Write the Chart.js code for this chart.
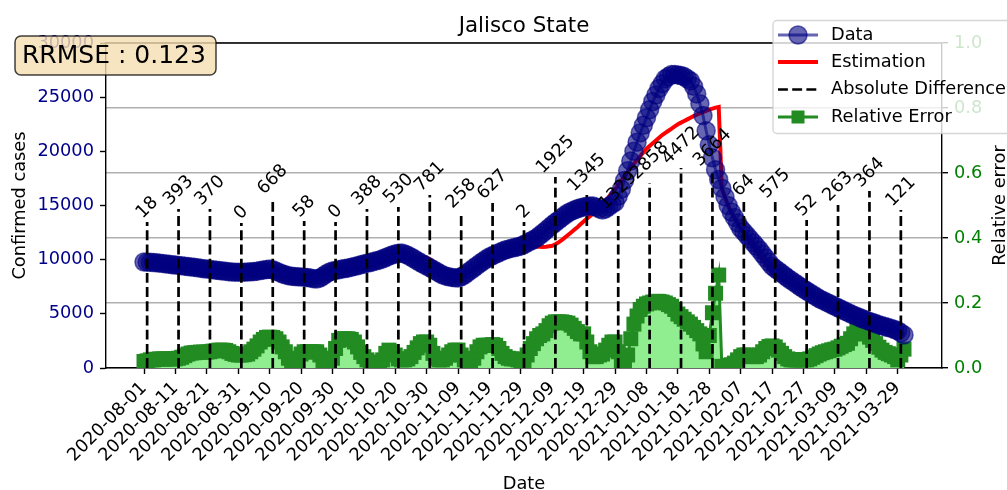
<!DOCTYPE html>
<html>
<head>
<meta charset="utf-8">
<script src="https://cdn.jsdelivr.net/npm/chart.js@4.4.1/dist/chart.umd.min.js"></script>
<style>
  html, body { margin: 0; padding: 0; background: #fff; }
  canvas { display: block; }
</style>
</head>
<body>
<canvas id="chart" width="1007" height="490"></canvas>
<script>
// daily series, day 0 = startDate
const startDate = '2020-08-01';

const tickLabels = [
  '2020-08-01', '2020-08-11', '2020-08-21', '2020-08-31', '2020-09-10',
  '2020-09-20', '2020-09-30', '2020-10-10', '2020-10-20', '2020-10-30',
  '2020-11-09', '2020-11-19', '2020-11-29', '2020-12-09', '2020-12-19',
  '2020-12-29', '2021-01-08', '2021-01-18', '2021-01-28', '2021-02-07',
  '2021-02-17', '2021-02-27', '2021-03-09', '2021-03-19', '2021-03-29'
];

const confirmed = [
  9785, 9770, 9755, 9740, 9720, 9680, 9650, 9610, 9575, 9540,
  9508, 9470, 9440, 9400, 9360, 9320, 9290, 9250, 9210, 9170,
  9139, 9100, 9060, 9020, 8990, 8950, 8920, 8890, 8860, 8850,
  8850, 8840, 8850, 8870, 8880, 8900, 8940, 8990, 9040, 9090,
  9130, 9060, 8950, 8820, 8700, 8600, 8520, 8470, 8440, 8420,
  8400, 8380, 8350, 8300, 8250, 8215, 8300, 8480, 8680, 8850,
  8954, 9010, 9070, 9130, 9180, 9231, 9300, 9380, 9450, 9530,
  9600, 9670, 9740, 9820, 9890, 9969, 10080, 10200, 10320, 10430,
  10523, 10600, 10615, 10520, 10400, 10246, 10080, 9900, 9730, 9570,
  9415, 9260, 9100, 8940, 8760, 8600, 8500, 8420, 8360, 8320,
  8308, 8420, 8585, 8800, 9010, 9231, 9450, 9660, 9860, 10060,
  10246, 10380, 10510, 10640, 10770, 10890, 10970, 11050, 11120, 11190,
  11262, 11400, 11550, 11700, 11850, 12000, 12230, 12460, 12700, 12950,
  13200, 13430, 13650, 13880, 14100, 14308, 14450, 14580, 14700, 14800,
  14862, 14920, 14950, 14954, 14850, 14700, 14585, 14700, 14900, 15100,
  15300, 15850, 16500, 17300, 18200, 19100, 20000, 20850, 21700, 22400,
  23100, 23850, 24600, 25200, 25800, 26250, 26700, 26900, 27100, 27100,
  27050, 27000, 26900, 26700, 26500, 26000, 25300, 24400, 23300, 21900,
  20600, 19400, 18300, 17400, 16600, 15800, 15000, 14400, 13900, 13400,
  12900, 12560, 12230, 11900, 11570, 11230, 10900, 10520, 10150, 9780,
  9400, 9180, 8960, 8740, 8520, 8300, 8100, 7900, 7700, 7500,
  7300, 7120, 6940, 6760, 6580, 6400, 6260, 6120, 5980, 5840,
  5700, 5560, 5420, 5280, 5140, 5000, 4880, 4760, 4640, 4520,
  4400, 4300, 4200, 4100, 4000, 3900, 3820, 3730, 3650, 3550,
  3450, 3250, 3050
];

const estimation = [
  9803, 9740, 9670, 9600, 9530, 9460, 9390, 9320, 9250, 9180,
  9115, 9050, 8990, 8940, 8890, 8850, 8820, 8800, 8785, 8775,
  8769, 8765, 8762, 8760, 8760, 8760, 8762, 8765, 8767, 8769,
  8769, 8740, 8700, 8650, 8600, 8560, 8520, 8500, 8485, 8475,
  8471, 8460, 8450, 8440, 8420, 8400, 8380, 8365, 8350, 8345,
  8342, 8380, 8450, 8540, 8640, 8740, 8830, 8890, 8930, 8950,
  8954, 8980, 9010, 9040, 9080, 9110, 9140, 9170, 9190, 9205,
  9212, 9300, 9400, 9500, 9600, 9700, 9790, 9870, 9930, 9970,
  9993, 10020, 10060, 10100, 10140, 10170, 10190, 10200, 10205, 10200,
  10196, 10050, 9850, 9620, 9400, 9180, 8980, 8800, 8670, 8600,
  8566, 8610, 8700, 8820, 8960, 9110, 9260, 9400, 9500, 9570,
  9619, 9800, 10000, 10200, 10400, 10600, 10800, 10970, 11100, 11200,
  11260, 11270, 11260, 11240, 11220, 11200, 11190, 11180, 11200, 11240,
  11275, 11420, 11600, 11800, 12030, 12270, 12510, 12760, 13000, 13260,
  13517, 13770, 14020, 14270, 14520, 14770, 15020, 15400, 15800, 16150,
  16500, 16900, 17300, 17700, 18100, 18500, 18850, 19200, 19550, 19900,
  20220, 20500, 20750, 21000, 21250, 21500, 21700, 21900, 22100, 22300,
  22500, 22650, 22800, 22950, 23100, 23250, 23380, 23500, 23620, 23740,
  23850, 23950, 24030, 24100, 16550, 15750, 14950, 14380, 13880, 13380,
  12836, 12430, 12020, 11610, 11200, 10800, 10400, 10000, 9600, 9210,
  8825, 8620, 8420, 8230, 8050, 7880, 7720, 7560, 7410, 7280,
  7248, 7100, 6930, 6760, 6590, 6420, 6260, 6110, 5960, 5820,
  5437, 5330, 5230, 5130, 5030, 4870, 4700, 4530, 4370, 4200,
  4036, 3950, 3870, 3790, 3720, 3650, 3590, 3530, 3480, 3420,
  3329, 3200, 3060
];

const relativeError = [
  0.020, 0.022, 0.025, 0.025, 0.027, 0.028, 0.028, 0.028, 0.028, 0.028,
  0.028, 0.030, 0.033, 0.038, 0.043, 0.046, 0.047, 0.048, 0.049, 0.049,
  0.049, 0.050, 0.052, 0.054, 0.055, 0.055, 0.054, 0.050, 0.045, 0.042,
  0.040, 0.040, 0.041, 0.043, 0.050, 0.058, 0.068, 0.080, 0.088, 0.094,
  0.095, 0.094, 0.090, 0.080, 0.065, 0.050, 0.030, 0.015, 0.010, 0.020,
  0.043, 0.050, 0.050, 0.050, 0.050, 0.050, 0.040, 0.020, 0.018, 0.020,
  0.030, 0.060, 0.085, 0.090, 0.090, 0.090, 0.088, 0.080, 0.065, 0.048,
  0.035, 0.025, 0.018, 0.013, 0.013, 0.013, 0.025, 0.045, 0.055, 0.050,
  0.040, 0.028, 0.025, 0.025, 0.028, 0.035, 0.048, 0.062, 0.075, 0.080,
  0.080, 0.070, 0.045, 0.030, 0.025, 0.025, 0.030, 0.040, 0.050, 0.055,
  0.055, 0.040, 0.025, 0.020, 0.020, 0.030, 0.050, 0.065, 0.070, 0.070,
  0.070, 0.072, 0.070, 0.060, 0.045, 0.035, 0.030, 0.028, 0.028, 0.025,
  0.005, 0.020, 0.040, 0.060, 0.075, 0.090, 0.100, 0.105, 0.115, 0.130,
  0.138, 0.142, 0.142, 0.142, 0.140, 0.138, 0.132, 0.122, 0.112, 0.105,
  0.105, 0.080, 0.050, 0.035, 0.035, 0.040, 0.043, 0.055, 0.070, 0.080,
  0.080, 0.050, 0.020, 0.005, 0.040, 0.090, 0.135, 0.160, 0.180, 0.190,
  0.197, 0.200, 0.203, 0.205, 0.205, 0.203, 0.200, 0.195, 0.190, 0.180,
  0.166, 0.158, 0.150, 0.142, 0.135, 0.125, 0.115, 0.105, 0.074, 0.050,
  0.100, 0.170, 0.230, 0.286, 0.005, 0.005, 0.008, 0.010, 0.015, 0.025,
  0.035, 0.040, 0.040, 0.038, 0.035, 0.035, 0.040, 0.050, 0.060, 0.066,
  0.068, 0.065, 0.055, 0.045, 0.035, 0.028, 0.025, 0.025, 0.025, 0.025,
  0.025, 0.025, 0.028, 0.033, 0.038, 0.043, 0.047, 0.050, 0.053, 0.056,
  0.058, 0.062, 0.067, 0.072, 0.076, 0.090, 0.105, 0.120, 0.130, 0.130,
  0.105, 0.095, 0.085, 0.075, 0.064, 0.055, 0.048, 0.044, 0.040, 0.035,
  0.025, 0.040, 0.058
];

// absolute difference markers (every 10 days)
const diffDays = [1, 11, 21, 31, 41, 51, 61, 71, 81, 91, 101, 111, 121,
  131, 141, 151, 161, 171, 181, 191, 201, 211, 221, 231, 241];
const diffTops = [13477, 14677, 14677, 13385, 15692, 13569, 13477, 14677, 14862,
  15969, 14400, 15231, 13477, 17631, 15969, 14308, 17077, 18462, 18277, 15508,
  15323, 13662, 15046, 16338, 14585];
const diffLabels = ['18', '393', '370', '0', '668', '58', '0', '388', '530', '781',
  '258', '627', '2', '1925', '1345', '1329', '2858', '4472', '3664', '64', '575',
  '52', '263', '364', '121'];

const rrmse = 0.123;

const FONT = 'DejaVu Sans';
const FS = 17.8;
const DATA_COL = 'rgba(0,0,128,0.6)';
const tickFont = { family: '"DejaVu Sans"', size: FS };

const dayOf = s => Math.round((Date.parse(s) - Date.parse(startDate)) / 86400000);
const tickDays = tickLabels.map(dayOf);
const lastDay = confirmed.length - 1;
const toXY = arr => arr.map((v, i) => ({ x: i, y: v }));

const diffPoints = [];
diffDays.forEach((d, i) => {
  diffPoints.push({ x: d, y: 0 }, { x: d, y: diffTops[i] }, { x: d, y: null });
});

Chart.defaults.font.family = '"DejaVu Sans"';
Chart.defaults.font.size = FS;
Chart.defaults.color = '#000';

const annotate = {
  id: 'annotate',
  afterDraw(chart) {
    const { ctx, chartArea: a, scales } = chart;
    const x = scales.x, y = scales.y;
    ctx.save();

    // top spine
    ctx.strokeStyle = '#000';
    ctx.lineWidth = 1.4;
    ctx.beginPath();
    ctx.moveTo(a.left, a.top);
    ctx.lineTo(a.right, a.top);
    ctx.stroke();

    // labels on the dashed lines
    ctx.font = FS + 'px "' + FONT + '"';
    ctx.fillStyle = '#000';
    ctx.textAlign = 'center';
    ctx.textBaseline = 'middle';
    diffLabels.forEach((t, i) => {
      const px = x.getPixelForValue(diffDays[i]);
      const py = y.getPixelForValue(diffTops[i]);
      const side = (ctx.measureText(t).width + FS) / Math.SQRT2;
      ctx.save();
      ctx.translate(px, py - side / 2);
      ctx.rotate(-Math.PI / 4);
      ctx.fillText(t, 0, 0);
      ctx.restore();
    });

    // title
    ctx.font = '21.4px "' + FONT + '"';
    ctx.textBaseline = 'alphabetic';
    ctx.fillText('Jalisco State', (a.left + a.right) / 2, a.top - 10.7);

    // axis titles
    ctx.font = FS + 'px "' + FONT + '"';
    ctx.fillText('Date', (a.left + a.right) / 2, 489);
    const mid = (a.top + a.bottom) / 2;
    ctx.save();
    ctx.translate(25, mid);
    ctx.rotate(-Math.PI / 2);
    ctx.fillText('Confirmed cases', 0, 0);
    ctx.restore();
    ctx.save();
    ctx.translate(1005, mid);
    ctx.rotate(-Math.PI / 2);
    ctx.fillText('Relative error', 0, 0);
    ctx.restore();

    // RRMSE box
    ctx.beginPath();
    ctx.roundRect(15, 36, 201, 39, 6);
    ctx.fillStyle = 'rgba(245,222,179,0.8)';
    ctx.fill();
    ctx.strokeStyle = 'rgba(0,0,0,0.75)';
    ctx.lineWidth = 1.5;
    ctx.stroke();
    ctx.fillStyle = '#000';
    ctx.font = '25px "' + FONT + '"';
    ctx.textAlign = 'left';
    ctx.textBaseline = 'middle';
    ctx.fillText('RRMSE : ' + rrmse.toFixed(3), 22, 56);

    // legend
    ctx.beginPath();
    ctx.roundRect(773, 20.5, 260, 113, 4);
    ctx.fillStyle = 'rgba(255,255,255,0.8)';
    ctx.fill();
    ctx.strokeStyle = 'rgba(204,204,204,0.8)';
    ctx.lineWidth = 1.4;
    ctx.stroke();

    const rows = [35, 62, 89.5, 117];
    const hx0 = 778, hx1 = 818, hxc = 798;
    // Data
    ctx.strokeStyle = DATA_COL;
    ctx.lineWidth = 3;
    ctx.beginPath(); ctx.moveTo(hx0, rows[0]); ctx.lineTo(hx1, rows[0]); ctx.stroke();
    ctx.beginPath(); ctx.arc(hxc, rows[0], 9, 0, Math.PI * 2);
    ctx.fillStyle = DATA_COL; ctx.fill();
    ctx.lineWidth = 1.5; ctx.stroke();
    // Estimation
    ctx.strokeStyle = '#ff0000';
    ctx.lineWidth = 4;
    ctx.beginPath(); ctx.moveTo(hx0, rows[1]); ctx.lineTo(hx1, rows[1]); ctx.stroke();
    // Absolute difference
    ctx.strokeStyle = '#000';
    ctx.lineWidth = 2.7;
    ctx.setLineDash([9.9, 4.3]);
    ctx.beginPath(); ctx.moveTo(hx0, rows[2]); ctx.lineTo(hx1, rows[2]); ctx.stroke();
    ctx.setLineDash([]);
    // Relative error
    ctx.strokeStyle = '#228b22';
    ctx.lineWidth = 3;
    ctx.beginPath(); ctx.moveTo(hx0, rows[3]); ctx.lineTo(hx1, rows[3]); ctx.stroke();
    ctx.fillStyle = '#228b22';
    ctx.fillRect(hxc - 6.5, rows[3] - 6.5, 13, 13);

    ctx.fillStyle = '#000';
    ctx.font = FS + 'px "' + FONT + '"';
    ctx.textAlign = 'left';
    ctx.textBaseline = 'middle';
    ['Data', 'Estimation', 'Absolute Difference', 'Relative Error'].forEach((t, i) => {
      ctx.fillText(t, 831, rows[i]);
    });

    ctx.restore();
  }
};

new Chart(document.getElementById('chart'), {
  type: 'line',
  data: {
    datasets: [
      {
        label: 'Absolute Difference',
        data: diffPoints,
        yAxisID: 'y',
        borderColor: '#000',
        borderWidth: 2.7,
        borderDash: [9.9, 4.3],
        pointRadius: 0,
        spanGaps: false,
        fill: false,
        order: 1
      },
      {
        label: 'Data',
        data: toXY(confirmed),
        yAxisID: 'y',
        borderColor: DATA_COL,
        borderWidth: 3,
        pointRadius: 9,
        pointBackgroundColor: DATA_COL,
        pointBorderColor: DATA_COL,
        pointBorderWidth: 1.5,
        fill: false,
        order: 2
      },
      {
        label: 'Estimation',
        data: toXY(estimation),
        yAxisID: 'y',
        borderColor: '#ff0000',
        borderWidth: 4,
        pointRadius: 0,
        fill: false,
        order: 3
      },
      {
        label: 'Relative Error',
        data: toXY(relativeError),
        yAxisID: 'y2',
        borderColor: '#228b22',
        borderWidth: 3,
        backgroundColor: '#90ee90',
        fill: 'origin',
        pointStyle: 'rect',
        pointRadius: 10.6,
        pointBackgroundColor: '#228b22',
        pointBorderWidth: 0,
        order: 4
      }
    ]
  },
  options: {
    responsive: false,
    animation: false,
    devicePixelRatio: 1,
    layout: { padding: { top: 43, left: 0, right: 0, bottom: 0 } },
    plugins: {
      legend: { display: false },
      tooltip: { enabled: false },
      title: { display: false }
    },
    scales: {
      x: {
        type: 'linear',
        min: -0.05 * lastDay,
        max: 1.05 * lastDay,
        afterBuildTicks: s => { s.ticks = tickDays.map(v => ({ value: v })); },
        afterFit: s => { s.height = 122; },
        ticks: {
          autoSkip: false,
          maxRotation: 45,
          minRotation: 45,
          padding: 4,
          color: '#000',
          font: tickFont,
          callback: (v, i) => tickLabels[i]
        },
        grid: { drawOnChartArea: false, tickLength: 6, tickWidth: 1.4, tickColor: '#000' },
        border: { color: '#000', width: 1.4 }
      },
      y: {
        position: 'left',
        min: 0,
        max: 30000,
        afterFit: s => { s.width = 106; },
        ticks: { stepSize: 5000, color: '#00008b', padding: 6, font: tickFont, callback: v => String(v) },
        grid: { drawOnChartArea: false, tickLength: 6, tickWidth: 1.4, tickColor: '#000' },
        border: { color: '#000', width: 1.4 }
      },
      y2: {
        position: 'right',
        min: 0,
        max: 1,
        afterFit: s => { s.width = 65; },
        ticks: { stepSize: 0.2, color: '#008000', padding: 6, font: tickFont, callback: v => v.toFixed(1) },
        grid: { color: '#b0b0b0', lineWidth: 1.4, tickLength: 6, tickWidth: 1.4, tickColor: '#000' },
        border: { color: '#000', width: 1.4 }
      }
    }
  },
  plugins: [annotate]
});
</script>
</body>
</html>
